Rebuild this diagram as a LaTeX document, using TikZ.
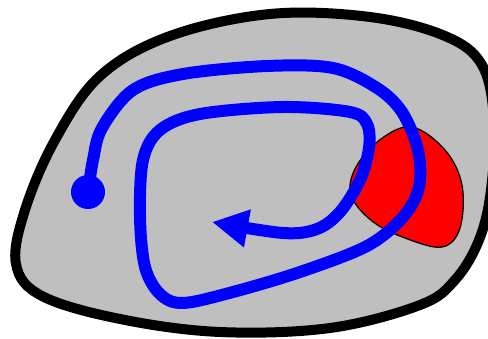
\documentclass[tikz,border=0pt]{standalone}
\usepackage{tikz}
\usetikzlibrary{arrows.meta}
\definecolor{mygray}{RGB}{191,191,191}
\definecolor{myblue}{RGB}{0,0,255}
\definecolor{myred}{RGB}{255,0,0}
\tikzset{
  region/.style={draw=black, fill=mygray, line width=10pt, line join=round},
  obstacle/.style={draw=black, fill=myred, line width=1.3pt},
  trajectory/.style={draw=myblue, line width=12pt, line cap=round, line join=round,
    -{Triangle[length=36pt, width=36pt]}},
  startdot/.style={fill=myblue}
}
\begin{document}
\begin{tikzpicture}[x=1pt, y=-1pt]
  \useasboundingbox (0,0) rectangle (488,339);
  \clip (0,0) rectangle (488,339);
  % outer region
  \path[region] plot[smooth cycle, tension=0.6] coordinates {
    (370,17) (445,36) (482,65) (494,120) (491,190) (479,240) (455,280)
    (420,305) (330,328) (220,332) (120,319) (42,296) (16,264) (25,210)
    (55,140) (100,76) (170,36) (270,14)};
  % obstacle
  \path[obstacle] plot[smooth cycle, tension=0.6] coordinates {
    (412,127) (445,150) (462,185) (460,228) (442,247) (405,238) (372,221)
    (351,195) (356,167) (381,139)};
  % path
  \draw[trajectory] plot[smooth, tension=0.55] coordinates {
    (88,192) (93,160) (102,128) (133,90) (183,74) (267,66) (333,68)
    (377,88) (402,112) (418,150) (419,187) (403,217) (367,246) (300,272)
    (233,292) (183,303) (160,294) (145,267) (140,217) (143,160) (160,130)
    (200,114) (283,107) (350,112) (367,124) (369,148) (360,180) (340,212)
    (317,229) (283,233) (212,222)};
  \fill[startdot] (88,192) circle[radius=17];
\end{tikzpicture}
\end{document}
